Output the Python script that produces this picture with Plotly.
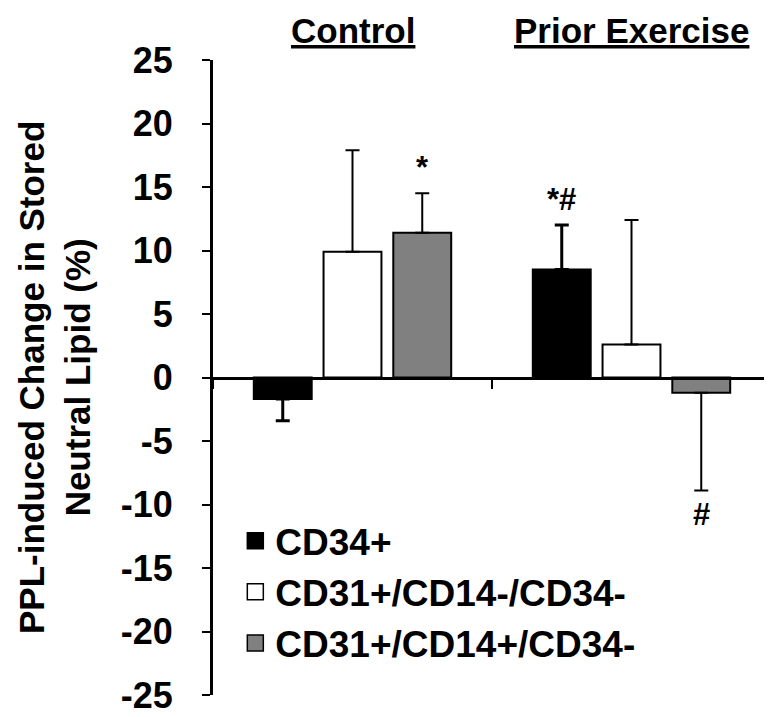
import plotly.graph_objects as go

# ---------------- data ----------------
categories = ["Control", "Prior Exercise"]
series_names = ["CD34+", "CD31+/CD14-/CD34-", "CD31+/CD14+/CD34-"]
cd34_vals = [-1.7, 8.5]
cd34_err = [1.7, 3.5]
cd31_cd14neg_vals = [9.9, 2.6]
cd31_cd14neg_err = [8.0, 9.8]
cd31_cd14pos_vals = [11.4, -1.2]
cd31_cd14pos_err = [3.1, 7.7]
cd34_sig = ["", "*#"]
cd31_cd14neg_sig = ["", ""]
cd31_cd14pos_sig = ["*", "#"]
y_tick_vals = [-25, -20, -15, -10, -5, 0, 5, 10, 15, 20, 25]
y_title = "PPL-induced Change in Stored<br>Neutral Lipid (%)"

# ---------------- style ----------------
FONT = "Liberation Sans, Arial, Helvetica, sans-serif"
fills = ["#000000", "#ffffff", "#808080"]
err_thick = [3, 2, 2]
BARGAP = 0.25

values = [cd34_vals, cd31_cd14neg_vals, cd31_cd14pos_vals]
errors = [cd34_err, cd31_cd14neg_err, cd31_cd14pos_err]
sigs = [cd34_sig, cd31_cd14neg_sig, cd31_cd14pos_sig]

fig = go.Figure()
for i, name in enumerate(series_names):
    vals = values[i]
    errs = errors[i]
    plus = [e if v >= 0 else 0 for v, e in zip(vals, errs)]
    minus = [e if v < 0 else 0 for v, e in zip(vals, errs)]
    fig.add_trace(go.Bar(
        x=categories, y=vals, name=name, showlegend=False,
        marker=dict(color=fills[i], line=dict(color="#000000", width=2)),
        error_y=dict(type="data", symmetric=False, array=plus, arrayminus=minus,
                     color="#000000", thickness=err_thick[i], width=7),
    ))
    # legend proxy
    fig.add_trace(go.Scatter(
        x=[None], y=[None], mode="markers", name=name,
        marker=dict(symbol="square", size=18, color=fills[i],
                    line=dict(color="#000000", width=1.5)),
    ))

annotations = []
n = len(series_names)
for i in range(n):
    off = (i - (n - 1) / 2) * (1 - BARGAP) / n
    for j, cat in enumerate(categories):
        s = sigs[i][j]
        if not s:
            continue
        v = values[i][j]
        e = errors[i][j]
        if v >= 0:
            annotations.append(dict(x=j + off, y=v + e, xref="x", yref="y", text=s,
                                    showarrow=False, yanchor="bottom", yshift=6,
                                    font=dict(family=FONT, size=31, color="#000", weight="bold")))
        else:
            annotations.append(dict(x=j + off, y=v - e, xref="x", yref="y", text=s,
                                    showarrow=False, yanchor="top", yshift=-4,
                                    font=dict(family=FONT, size=31, color="#000", weight="bold")))

# group titles (underlined)
for j, cat in enumerate(categories):
    annotations.append(dict(x=j, y=1.047, xref="x", yref="paper",
                            text="<span style='text-decoration:underline'>%s</span>" % cat,
                            showarrow=False, yanchor="middle",
                            font=dict(family=FONT, size=35, color="#000", weight="bold")))

# y-axis title
annotations.append(dict(x=-0.284, y=0.5, xref="paper", yref="paper", text=y_title,
                        showarrow=False, textangle=-90, xanchor="center", yanchor="middle",
                        font=dict(family=FONT, size=35, color="#000", weight="bold")))

fig.update_layout(
    width=772, height=717,
    margin=dict(l=205, r=9, t=52, b=25),
    plot_bgcolor="#ffffff", paper_bgcolor="#ffffff",
    barmode="group", bargap=BARGAP, bargroupgap=0.17,
    font=dict(family=FONT, color="#000"),
    annotations=annotations,
    legend=dict(x=0.04, y=0.291, xanchor="left", yanchor="top",
                bgcolor="rgba(0,0,0,0)", borderwidth=0,
                font=dict(family=FONT, size=37, color="#000", weight="bold"),
                itemwidth=30, tracegroupgap=0),
)
fig.update_xaxes(
    type="category", range=[-0.5, 1.5], showticklabels=False,
    anchor="free", position=0.5,
    showline=True, linecolor="#000", linewidth=3,
    ticks="outside", tickson="boundaries", ticklen=9, tickwidth=2, tickcolor="#000",
    showgrid=False, zeroline=False,
)
fig.update_yaxes(
    range=[-25, 25], tickvals=y_tick_vals, ticktext=[str(v) for v in y_tick_vals],
    showline=True, linecolor="#000", linewidth=3,
    ticks="outside", ticklen=8, tickwidth=2, tickcolor="#000",
    ticklabelstandoff=22,
    tickfont=dict(family=FONT, size=36, color="#000", weight="bold"),
    showgrid=False, zeroline=False,
)

fig.write_html("out.html")
